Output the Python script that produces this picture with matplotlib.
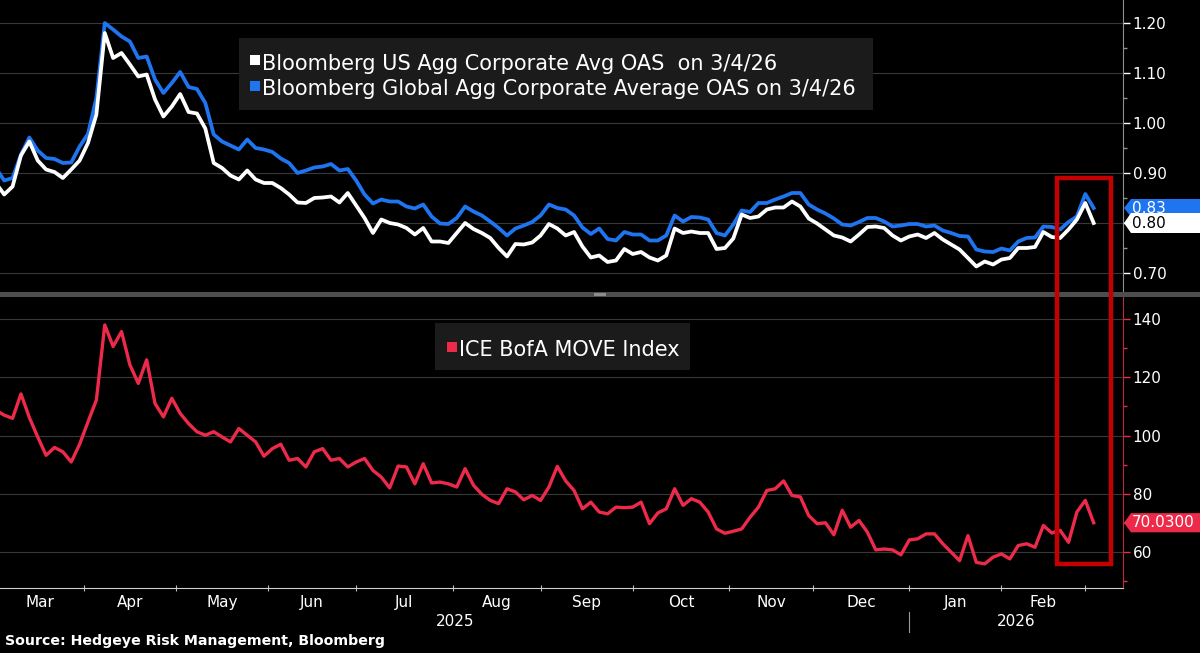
import numpy as np
import matplotlib.pyplot as plt
from matplotlib.patches import Rectangle, Polygon
from matplotlib.lines import Line2D
from matplotlib.transforms import blended_transform_factory

# readings taken every second business day from 3/3/25 to 3/4/26
start = '2025-03-03'
step = 2

global_oas = [
    0.910, 0.885, 0.890, 0.937, 0.971, 0.945, 0.930, 0.928, 0.920, 0.921,
    0.953, 0.978, 1.050, 1.200, 1.187, 1.173, 1.163, 1.130, 1.133, 1.087,
    1.060, 1.080, 1.102, 1.072, 1.068, 1.040, 0.977, 0.963, 0.955, 0.947,
    0.967, 0.950, 0.947, 0.942, 0.929, 0.920, 0.900, 0.905, 0.911, 0.913,
    0.918, 0.905, 0.908, 0.885, 0.857, 0.839, 0.847, 0.843, 0.843, 0.833,
    0.829, 0.837, 0.813, 0.799, 0.798, 0.810, 0.833, 0.823, 0.815, 0.803,
    0.790, 0.775, 0.789, 0.795, 0.802, 0.815, 0.837, 0.830, 0.827, 0.815,
    0.791, 0.778, 0.789, 0.768, 0.765, 0.782, 0.777, 0.777, 0.765, 0.765,
    0.775, 0.815, 0.803, 0.812, 0.811, 0.807, 0.780, 0.775, 0.797, 0.825,
    0.822, 0.840, 0.840, 0.847, 0.853, 0.860, 0.860, 0.837, 0.827, 0.819,
    0.809, 0.797, 0.795, 0.802, 0.810, 0.810, 0.803, 0.793, 0.795, 0.798,
    0.798, 0.793, 0.795, 0.785, 0.780, 0.774, 0.773, 0.747, 0.743, 0.742,
    0.749, 0.745, 0.763, 0.770, 0.771, 0.793, 0.792, 0.787, 0.802, 0.813,
    0.858, 0.830,
]

us_oas = [
    0.880, 0.857, 0.873, 0.935, 0.963, 0.925, 0.907, 0.902, 0.890, 0.907,
    0.925, 0.960, 1.017, 1.180, 1.130, 1.140, 1.117, 1.093, 1.097, 1.047,
    1.013, 1.033, 1.058, 1.022, 1.019, 0.989, 0.920, 0.910, 0.895, 0.887,
    0.905, 0.887, 0.880, 0.880, 0.870, 0.857, 0.841, 0.840, 0.850, 0.851,
    0.853, 0.841, 0.860, 0.835, 0.810, 0.780, 0.807, 0.800, 0.797, 0.790,
    0.777, 0.790, 0.763, 0.763, 0.760, 0.780, 0.800, 0.788, 0.780, 0.770,
    0.750, 0.733, 0.758, 0.757, 0.761, 0.775, 0.798, 0.789, 0.775, 0.782,
    0.753, 0.731, 0.735, 0.722, 0.725, 0.748, 0.738, 0.742, 0.731, 0.725,
    0.735, 0.789, 0.780, 0.783, 0.780, 0.780, 0.748, 0.750, 0.769, 0.817,
    0.810, 0.813, 0.827, 0.831, 0.831, 0.843, 0.833, 0.809, 0.799, 0.787,
    0.775, 0.771, 0.763, 0.777, 0.792, 0.793, 0.790, 0.775, 0.765, 0.773,
    0.777, 0.770, 0.780, 0.767, 0.757, 0.747, 0.730, 0.713, 0.723, 0.717,
    0.727, 0.730, 0.750, 0.750, 0.752, 0.782, 0.772, 0.770, 0.787, 0.807,
    0.840, 0.800,
]

move = [
    108.7, 107.0, 105.9, 114.3, 106.2, 99.5, 93.2, 95.9, 94.4, 90.9,
    97.0, 104.7, 112.2, 138.0, 130.6, 135.7, 124.3, 117.9, 126.0, 111.0,
    106.4, 112.8, 107.6, 104.1, 101.3, 100.1, 101.3, 99.5, 97.8, 102.4,
    100.1, 97.8, 92.9, 95.5, 97.0, 91.5, 92.1, 89.2, 94.4, 95.5,
    91.5, 92.1, 89.2, 90.9, 92.1, 88.0, 85.7, 82.0, 89.5, 89.2,
    83.4, 90.3, 83.7, 84.0, 83.4, 82.3, 88.6, 82.9, 79.8, 77.7,
    76.6, 81.7, 80.6, 77.9, 79.4, 77.7, 82.3, 89.4, 84.4, 81.1,
    74.8, 77.1, 73.7, 73.1, 75.4, 75.2, 75.4, 77.1, 69.7, 73.4,
    74.8, 81.7, 76.0, 78.3, 77.1, 73.7, 67.9, 66.4, 67.1, 67.9,
    71.9, 75.4, 81.1, 81.7, 84.4, 79.4, 78.9, 72.5, 69.7, 70.0,
    65.9, 74.3, 68.5, 70.8, 66.8, 60.7, 61.0, 60.7, 59.0, 64.1,
    64.5, 66.2, 66.2, 62.8, 59.9, 57.0, 65.6, 56.4, 55.9, 58.2,
    59.3, 57.6, 62.2, 62.8, 61.6, 69.1, 66.5, 67.4, 63.3, 73.7,
    77.7, 70.03,
]

month_names = ['Mar', 'Apr', 'May', 'Jun', 'Jul', 'Aug', 'Sep', 'Oct', 'Nov', 'Dec', 'Jan', 'Feb']
month_starts = ['2025-04-01', '2025-05-01', '2025-06-01', '2025-07-01', '2025-08-01', '2025-09-01',
                '2025-10-01', '2025-11-01', '2025-12-01', '2026-01-01', '2026-02-01', '2026-03-01']
years = ['2025', '2026']

us_label = 'Bloomberg US Agg Corporate Avg OAS  on 3/4/26'
global_label = 'Bloomberg Global Agg Corporate Average OAS on 3/4/26'
move_label = 'ICE BofA MOVE Index'
source = 'Source: Hedgeye Risk Management, Bloomberg'

BLUE = '#1f74f0'
RED = '#ee2a4a'
W, H = 1200, 653

plt.rcParams['font.family'] = ['DejaVu Sans']

days = np.arange(len(move)) * step
bounds = np.busday_count(start, np.array(month_starts, dtype='datetime64[D]'))
edges = np.concatenate([[0], bounds])
centers = (edges[:-1] + edges[1:]) / 2
year_split = np.busday_count(start, '2026-01-01')
xmin, xmax = 1, 269

fig = plt.figure(figsize=(W / 100, H / 100), dpi=100, facecolor='black')
ax1 = fig.add_axes([0, 361 / H, 1123 / W, 292 / H])
ax2 = fig.add_axes([0, 65 / H, 1123 / W, 291 / H])

for ax in (ax1, ax2):
    ax.set_facecolor('black')
    ax.set_xlim(xmin, xmax)
    ax.yaxis.tick_right()
    ax.spines['left'].set_visible(False)
    ax.spines['top'].set_visible(False)
    ax.grid(axis='y', which='major', color='#383838', lw=0.8)
    ax.set_axisbelow(True)

# top panel: corporate OAS
ax1.plot(days, global_oas, color=BLUE, lw=2.7, solid_joinstyle='round')
ax1.plot(days, us_oas, color='white', lw=2.7, solid_joinstyle='round')
ax1.set_ylim(0.662, 1.246)
ax1.set_yticks(np.arange(0.70, 1.21, 0.10))
ax1.set_yticks(np.arange(0.75, 1.21, 0.10), minor=True)
ax1.set_yticklabels([f'{v:.2f}' for v in np.arange(0.70, 1.21, 0.10)])
ax1.spines['bottom'].set_visible(False)
ax1.spines['right'].set_color('#909090')
ax1.set_xticks([])
ax1.tick_params(axis='y', which='major', colors='white', length=5, width=1, pad=2, labelsize=11)
ax1.tick_params(axis='y', which='minor', colors='#909090', length=3, width=1)

# bottom panel: MOVE
ax2.plot(days, move, color=RED, lw=2.4, solid_joinstyle='round')
ax2.set_ylim(47.6, 147.6)
ax2.set_yticks(np.arange(60, 141, 20))
ax2.set_yticks(np.arange(50, 141, 20), minor=True)
ax2.spines['right'].set_color('#b8283e')
ax2.spines['bottom'].set_color('#cfcfcf')
ax2.tick_params(axis='y', which='major', colors=RED, labelcolor='white', length=5, width=1, pad=2, labelsize=11)
ax2.tick_params(axis='y', which='minor', colors=RED, length=3, width=1)
ax2.set_xticks(bounds)
ax2.set_xticklabels([])
ax2.set_xticks(centers, minor=True)
ax2.set_xticklabels(month_names, minor=True)
ax2.tick_params(axis='x', which='major', colors='#bbbbbb', length=4, direction='inout')
ax2.tick_params(axis='x', which='minor', length=0, pad=5, labelcolor='white', labelsize=11)

# year labels under the months
ytr = blended_transform_factory(ax2.transData, fig.transFigure)
fig.text((xmin + year_split) / 2, 1 - 621 / H, years[0], transform=ytr, color='white',
         fontsize=11, ha='center', va='center')
fig.text((year_split + xmax) / 2, 1 - 621 / H, years[1], transform=ytr, color='white',
         fontsize=11, ha='center', va='center')
fig.add_artist(Line2D([year_split, year_split], [1 - 632 / H, 1 - 612 / H], transform=ytr,
                      color='#9a9a9a', lw=0.8))

fig.text(5 / W, 1 - 641 / H, source, color='white', fontsize=10.2, fontweight='bold',
         ha='left', va='center')


def rect(x0, y0, x1, y1, color, z=2):
    fig.add_artist(Rectangle((x0 / W, 1 - y1 / H), (x1 - x0) / W, (y1 - y0) / H,
                             transform=fig.transFigure, facecolor=color, edgecolor='none', zorder=z))


# panel separator
rect(0, 292, W, 296.5, '#4d4d4d')
rect(594, 292.5, 606, 296, '#8c8c8c')

# legends
rect(239, 38, 873, 110, '#1b1b1b')
rect(250, 55, 260, 65, 'white', 3)
rect(250, 81, 260, 91, BLUE, 3)
fig.text(262 / W, 1 - 70 / H, us_label, color='white', fontsize=15, va='baseline', zorder=4)
fig.text(262 / W, 1 - 95 / H, global_label, color='white', fontsize=15, va='baseline', zorder=4)

rect(435, 323, 690, 370, '#1b1b1b')
rect(447, 342, 457, 352, RED, 3)
fig.text(459 / W, 1 - 356 / H, move_label, color='white', fontsize=15, va='baseline', zorder=4)


# last-value tags on the right axis
def tag(ax, value, text, face, fg, half, z):
    tr = blended_transform_factory(fig.transFigure, ax.transData)
    x0, x1 = 1124 / W, 1131 / W
    fig.add_artist(Polygon([(x0, value), (x1, value + half), (1.0, value + half),
                            (1.0, value - half), (x1, value - half)],
                           closed=True, transform=tr, facecolor=face, edgecolor='none', zorder=z))
    fig.text(1132 / W, value, text, transform=tr, color=fg, fontsize=11,
             ha='left', va='center', zorder=z + 0.5)


tag(ax1, global_oas[-1], f'{global_oas[-1]:.2f}', BLUE, 'white', 0.018, 5)
tag(ax1, us_oas[-1], f'{us_oas[-1]:.2f}', 'white', 'black', 0.020, 6)
tag(ax2, move[-1], f'{move[-1]:.4f}', RED, 'white', 3.3, 5)

# highlight box over the latest move
fig.add_artist(Rectangle((1057 / W, 1 - 564 / H), 54 / W, 386 / H, transform=fig.transFigure,
                         facecolor='none', edgecolor='#c40000', lw=3.2, zorder=4))

fig.savefig('out.png', dpi=100, facecolor='black')
